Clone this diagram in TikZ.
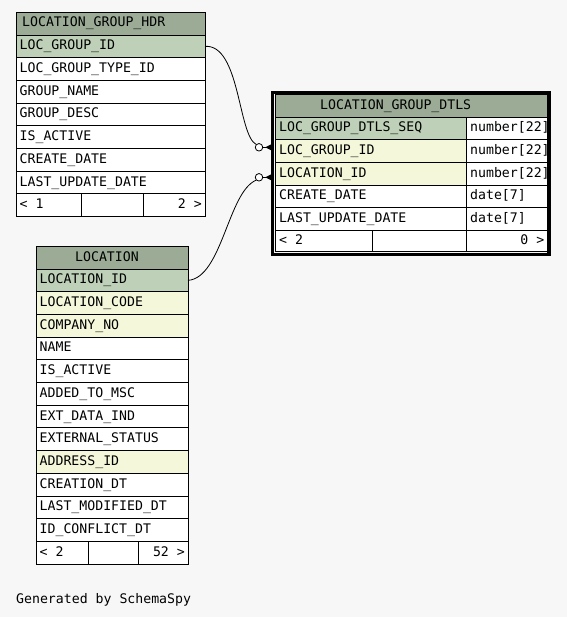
\documentclass[tikz,border=0pt]{standalone}
\usepackage{fontspec}
\newfontfamily\mono{DejaVu Sans Mono}
\definecolor{bgc}{HTML}{F7F7F7}
\definecolor{titlec}{HTML}{9BAB96}
\definecolor{pkc}{HTML}{BED1B8}
\definecolor{fkc}{HTML}{F4F7DA}
\tikzset{
  cellbox/.style={draw=black, line width=0.9pt, anchor=north west, inner sep=0pt, outer sep=0pt, minimum height=22.7pt, fill=white},
  celltext/.style={inner sep=0pt, text height=9pt, text depth=2pt, font=\mono\fontsize{13.2}{14}\selectfont},
  link/.style={draw=black, line width=0.8pt},
  zeroend/.style={circle, draw=black, line width=0.8pt, fill=white, minimum size=7.5pt, inner sep=0pt},
}
% name, x, y, width, fill, text
\newcommand\trow[6]{%
  \node[cellbox, fill=#5, minimum width=#4pt] (#1) at (#2,#3) {};
  \node[celltext, anchor=west] (#1t) at ([xshift=3.5pt]#1.west) {#6};
}
% name, x, y, width, height, fill, text x, text
\newcommand\ttitle[8]{%
  \node[cellbox, fill=#6, minimum width=#4pt, minimum height=#5pt] (#1) at (#2,#3) {};
  \coordinate (#1x) at (#7,0);
  \node[celltext, anchor=west] (#1t) at (#1.west -| #1x) {#8};
}
% name, x, y, w1, w2, w3, height, lefttext, righttext
\newcommand\tfoot[9]{%
  \node[cellbox, minimum width=#4pt, minimum height=#7pt] (#1a) at (#2,#3) {};
  \node[cellbox, minimum width=#5pt, minimum height=#7pt] (#1b) at (#1a.north east) {};
  \node[cellbox, minimum width=#6pt, minimum height=#7pt] (#1c) at (#1b.north east) {};
  \node[celltext, anchor=west] (#1l) at ([xshift=3.5pt]#1a.west) {#8};
  \node[celltext, anchor=east] (#1r) at ([xshift=-3pt]#1c.east) {#9};
}
\begin{document}
\begin{tikzpicture}[x=1pt,y=-1pt]
\useasboundingbox[fill=bgc] (0,0) rectangle (567,617);

% ---------- LOCATION_GROUP_HDR ----------
\ttitle{hdrT}{16}{12}{189}{23}{titlec}{22}{LOCATION\_GROUP\_HDR}
\trow{hdrA}{16}{35}{189}{pkc}{LOC\_GROUP\_ID}
\trow{hdrB}{16}{57.7}{189}{white}{LOC\_GROUP\_TYPE\_ID}
\trow{hdrC}{16}{80.4}{189}{white}{GROUP\_NAME}
\trow{hdrD}{16}{103.1}{189}{white}{GROUP\_DESC}
\trow{hdrE}{16}{125.8}{189}{white}{IS\_ACTIVE}
\trow{hdrF}{16}{148.5}{189}{white}{CREATE\_DATE}
\trow{hdrG}{16}{171.2}{189}{white}{LAST\_UPDATE\_DATE}
\tfoot{hdrX}{16}{193.9}{65}{62}{62}{22.7}{< 1}{2 >}

% ---------- LOCATION ----------
\ttitle{locT}{36}{246}{152}{23}{titlec}{75}{LOCATION}
\trow{locA}{36}{269}{152}{pkc}{LOCATION\_ID}
\trow{locB}{36}{291.7}{152}{fkc}{LOCATION\_CODE}
\trow{locC}{36}{314.4}{152}{fkc}{COMPANY\_NO}
\trow{locD}{36}{337.1}{152}{white}{NAME}
\trow{locE}{36}{359.8}{152}{white}{IS\_ACTIVE}
\trow{locF}{36}{382.5}{152}{white}{ADDED\_TO\_MSC}
\trow{locG}{36}{405.2}{152}{white}{EXT\_DATA\_IND}
\trow{locH}{36}{427.9}{152}{white}{EXTERNAL\_STATUS}
\trow{locI}{36}{450.6}{152}{fkc}{ADDRESS\_ID}
\trow{locJ}{36}{473.3}{152}{white}{CREATION\_DT}
\trow{locK}{36}{496}{152}{white}{LAST\_MODIFIED\_DT}
\trow{locL}{36}{518.7}{152}{white}{ID\_CONFLICT\_DT}
\tfoot{locX}{36}{541.4}{52}{50}{50}{22.7}{< 2}{52 >}

% ---------- LOCATION_GROUP_DTLS ----------
\ttitle{dtT}{275.5}{94.5}{272}{22.5}{titlec}{320}{LOCATION\_GROUP\_DTLS}
\trow{dtA}{275.5}{117}{191}{pkc}{LOC\_GROUP\_DTLS\_SEQ}
\trow{dtAt}{466.5}{117}{81}{white}{number[22]}
\trow{dtB}{275.5}{139.7}{191}{fkc}{LOC\_GROUP\_ID}
\trow{dtBt}{466.5}{139.7}{81}{white}{number[22]}
\trow{dtC}{275.5}{162.4}{191}{fkc}{LOCATION\_ID}
\trow{dtCt}{466.5}{162.4}{81}{white}{number[22]}
\trow{dtD}{275.5}{185.1}{191}{white}{CREATE\_DATE}
\trow{dtDt}{466.5}{185.1}{81}{white}{date[7]}
\trow{dtE}{275.5}{207.8}{191}{white}{LAST\_UPDATE\_DATE}
\trow{dtEt}{466.5}{207.8}{81}{white}{date[7]}
\tfoot{dtX}{275.5}{230.5}{97}{94}{81}{20.5}{< 2}{0 >}
\node[draw=black, line width=3.4pt, inner sep=0pt, outer sep=0pt, anchor=north west, minimum width=276.3pt, minimum height=161.8pt] (dtFrame) at (272.7,92.7) {};

% ---------- relationships ----------
\node[zeroend] (z1) at (259,147.3) {};
\node[zeroend] (z2) at (259,177.3) {};
\draw[link] (hdrA.east) .. controls (240,44) and (238,135) .. (z1.north west);
\draw[link] (locA.east) .. controls (222,278) and (228,192) .. (z2.south west);
\draw[link] (z1.east) -- (dtFrame.west |- z1.east);
\draw[link] (z2.east) -- (dtFrame.west |- z2.east);
\fill (z1.east) ++(2,0) -- ++(8,-4) -- ++(0,8) -- cycle;
\fill (z2.east) ++(2,0) -- ++(8,-4) -- ++(0,8) -- cycle;

% ---------- footer text ----------
\node[celltext, anchor=base west] (gen) at (16,603.3) {Generated by SchemaSpy};
\end{tikzpicture}
\end{document}
